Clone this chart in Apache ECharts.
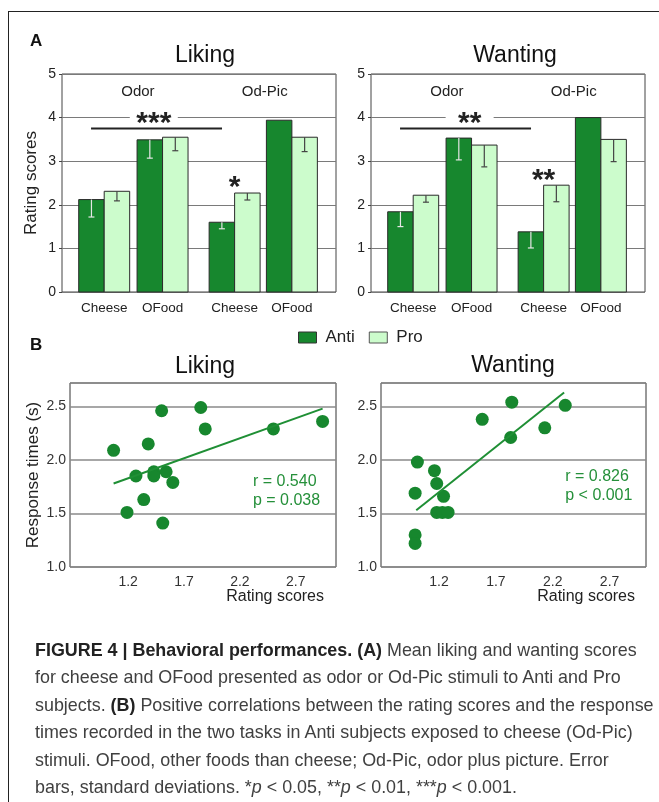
<!DOCTYPE html>
<html>
<head>
<meta charset="utf-8">
<script src="https://cdn.jsdelivr.net/npm/echarts@6/dist/echarts.min.js"></script>
<style>
  body { margin: 0; background: #fff; }
  #chart { width: 659px; height: 802px; }
  #frame { position: absolute; left: 8px; top: 11px; width: 680px; height: 820px;
           border-top: 1px solid #222; border-left: 1px solid #222; pointer-events: none; }
  #caption { position: absolute; left: 35px; top: 637px; white-space: nowrap;
             font-family: 'Liberation Sans', Arial, sans-serif; font-size: 17.9px;
             line-height: 27.4px; color: #404040; }
  #caption b { color: #222; }
</style>
</head>
<body>
<div id="chart"></div>
<div id="frame"></div>
<div id="caption">
  <b>FIGURE 4 | Behavioral performances. (A)</b> Mean liking and wanting scores<br>
  for cheese and OFood presented as odor or Od-Pic stimuli to Anti and Pro<br>
  subjects. <b>(B)</b> Positive correlations between the rating scores and the response<br>
  times recorded in the two tasks in Anti subjects exposed to cheese (Od-Pic)<br>
  stimuli. OFood, other foods than cheese; Od-Pic, odor plus picture. Error<br>
  bars, standard deviations. *<i>p</i> &lt; 0.05, **<i>p</i> &lt; 0.01, ***<i>p</i> &lt; 0.001.
</div>
<script>
// ---- data ----
const categories = ['Cheese', 'OFood', 'Cheese', 'OFood'];
const groups = ['Odor', 'Od-Pic'];

const likingAnti = [2.12, 3.49, 1.60, 3.94];
const likingPro = [2.31, 3.55, 2.27, 3.55];
const likingAntiSD = [0.40, 0.42, 0.15, 0];
const likingProSD = [0.22, 0.31, 0.16, 0.33];

const wantingAnti = [1.84, 3.53, 1.38, 4.00];
const wantingPro = [2.22, 3.37, 2.45, 3.50];
const wantingAntiSD = [0.34, 0.50, 0.37, 0];
const wantingProSD = [0.16, 0.50, 0.38, 0.51];

const likingStars = ['***', '*'];
const wantingStars = ['**', '**'];

const likingPoints = [[1.07, 2.09], [1.50, 2.46], [1.85, 2.49], [1.89, 2.29], [1.38, 2.15],
  [1.27, 1.85], [1.43, 1.89], [1.43, 1.85], [1.54, 1.89], [1.60, 1.79], [1.34, 1.63],
  [1.19, 1.51], [1.51, 1.41], [2.50, 2.29], [2.94, 2.36]];
const likingFit = [[1.07, 1.78], [2.94, 2.48]];
const likingStats = 'r = 0.540\np = 0.038';

const wantingPoints = [[1.01, 1.98], [0.99, 1.69], [0.99, 1.30], [0.99, 1.22], [1.16, 1.90],
  [1.18, 1.78], [1.24, 1.66], [1.18, 1.51], [1.23, 1.51], [1.28, 1.51], [1.58, 2.38],
  [1.84, 2.54], [1.83, 2.21], [2.13, 2.30], [2.31, 2.51]];
const wantingFit = [[1.00, 1.53], [2.30, 2.63]];
const wantingStats = 'r = 0.826\np < 0.001';

const barTicks = [0, 1, 2, 3, 4, 5];
const ratingTicks = [1.2, 1.7, 2.2, 2.7];

// ---- layout ----
const FONT = "'Liberation Sans', Arial, sans-serif";
const ANTI = '#17872e';
const PRO = '#ccfccc';
const GREEN_TXT = '#25903a';
const catX = [15.4, 36.7, 63.0, 83.9];   // category centres on a 0..100 axis
const barW = 9.3;
const groupX = [27.7, 74.0];

const chart = echarts.init(document.getElementById('chart'));

function barRenderer(fill, errColor) {
  return function (params, api) {
    const x = api.value(0), v = api.value(1), sd = api.value(2);
    const top = api.coord([x, v]);
    const base = api.coord([x, 0]);
    const w = api.size([barW, 0])[0];
    const kids = [{
      type: 'rect',
      shape: { x: top[0] - w / 2, y: top[1], width: w, height: base[1] - top[1] },
      style: { fill: fill, stroke: '#2a2a2a', lineWidth: 1 }
    }];
    if (sd > 0) {
      const lo = api.coord([x, v - sd]);
      kids.push({ type: 'line', shape: { x1: top[0], y1: top[1], x2: top[0], y2: lo[1] },
        style: { stroke: errColor, lineWidth: 1.2 } });
      kids.push({ type: 'line', shape: { x1: top[0] - 3, y1: lo[1], x2: top[0] + 3, y2: lo[1] },
        style: { stroke: errColor, lineWidth: 1.2 } });
    }
    return { type: 'group', children: kids };
  };
}

function annotRenderer(pro, stars, starX) {
  return function (params, api) {
    const kids = [];
    groups.forEach((g, i) => {
      const p = api.coord([groupX[i], 4.58]);
      kids.push({ type: 'text', x: p[0], y: p[1],
        style: { text: g, font: '15px ' + FONT, fill: '#222', align: 'center', verticalAlign: 'middle' } });
    });
    const a = api.coord([10.6, 3.75]), b = api.coord([58.4, 3.75]);
    kids.push({ type: 'line', shape: { x1: a[0], y1: a[1], x2: b[0], y2: b[1] },
      style: { stroke: '#222', lineWidth: 2 } });
    const s = api.coord([starX, 4]);
    kids.push({ type: 'rect', shape: { x: s[0] - 24, y: s[1] - 4, width: 48, height: 8 },
      style: { fill: '#fff' } });
    kids.push({ type: 'text', x: s[0], y: s[1] + 6,
      style: { text: stars[0], font: 'bold 30px ' + FONT, fill: '#222', align: 'center', verticalAlign: 'middle' } });
    const t = api.coord([catX[2], pro[2] + 0.25]);
    kids.push({ type: 'text', x: t[0], y: t[1] + 6,
      style: { text: stars[1], font: 'bold 30px ' + FONT, fill: '#222', align: 'center', verticalAlign: 'middle' } });
    return { type: 'group', children: kids };
  };
}

function statsRenderer(text) {
  return function (params, api) {
    const p = api.coord([api.value(0), api.value(1)]);
    return { type: 'text', x: p[0], y: p[1],
      style: { text: text, font: '16px ' + FONT, fill: GREEN_TXT, align: 'left',
        verticalAlign: 'middle', lineHeight: 19 } };
  };
}

function catLabel(v) {
  const k = catX.findIndex(c => Math.abs(c - v) < 0.01);
  return k >= 0 ? categories[k] : '';
}

const barGrid = { show: true, borderColor: '#444', borderWidth: 1, top: 74, height: 218, width: 274 };
const scatGrid = { show: true, borderColor: '#333', borderWidth: 1, top: 383, height: 184 };

function barXAxis(i) {
  return { gridIndex: i, type: 'value', min: 0, max: 100,
    axisLine: { show: false }, axisTick: { show: false }, splitLine: { show: false },
    axisLabel: { customValues: catX, formatter: catLabel, margin: 9, fontSize: 13.5,
      color: '#222', fontFamily: FONT } };
}
function barYAxis(i, name) {
  return { gridIndex: i, type: 'value', min: barTicks[0], max: barTicks[barTicks.length - 1], interval: 1,
    axisLine: { show: false },
    axisTick: { show: true, length: 3, lineStyle: { color: '#444' } },
    splitLine: { lineStyle: { color: '#7a7a7a', width: 1 } },
    axisLabel: { fontSize: 14, color: '#222', margin: 6, fontFamily: FONT },
    name: name, nameLocation: 'middle', nameGap: 22, nameRotate: 90,
    nameTextStyle: { fontSize: 17, color: '#222', fontFamily: FONT } };
}
function scatXAxis(i, min, max) {
  return { gridIndex: i, type: 'value', min: min, max: max,
    axisLine: { show: false }, axisTick: { show: false }, splitLine: { show: false },
    axisLabel: { customValues: ratingTicks, formatter: v => v.toFixed(1), margin: 8,
      fontSize: 14, color: '#333', fontFamily: FONT } };
}
function scatYAxis(i, name) {
  return { gridIndex: i, type: 'value', min: 1, max: 2.719, interval: 0.5,
    axisLine: { show: false }, axisTick: { show: false },
    splitLine: { lineStyle: { color: '#8a8a8a', width: 1.5 } },
    axisLabel: { formatter: v => v.toFixed(1), showMaxLabel: false, fontSize: 14,
      color: '#333', margin: 4, fontFamily: FONT },
    name: name, nameLocation: 'middle', nameGap: 28, nameRotate: 90,
    nameTextStyle: { fontSize: 17, color: '#222', fontFamily: FONT } };
}

function txt(text, x, y, size, opts) {
  return Object.assign({ type: 'text', x: x, y: y,
    style: { text: text, font: size + 'px ' + FONT, fill: '#111', align: 'center', verticalAlign: 'middle' } }, opts || {});
}

const option = {
  animation: false,
  textStyle: { fontFamily: FONT },
  grid: [
    Object.assign({ left: 62 }, barGrid),
    Object.assign({ left: 371 }, barGrid),
    Object.assign({ left: 70, width: 266 }, scatGrid),
    Object.assign({ left: 381, width: 265 }, scatGrid)
  ],
  xAxis: [barXAxis(0), barXAxis(1), scatXAxis(2, 0.68, 3.06), scatXAxis(3, 0.69, 3.02)],
  yAxis: [barYAxis(0, 'Rating scores'), barYAxis(1, ''), scatYAxis(2, 'Response times (s)'), scatYAxis(3, '')],
  legend: {
    left: 298, top: 329, padding: 0, itemWidth: 18, itemHeight: 11, itemGap: 14, icon: 'rect',
    selectedMode: false,
    textStyle: { fontSize: 17, color: '#222', fontFamily: FONT, padding: [0, 0, 0, 4] },
    data: [
      { name: 'Anti', itemStyle: { color: ANTI, borderColor: '#333', borderWidth: 1 } },
      { name: 'Pro', itemStyle: { color: PRO, borderColor: '#555', borderWidth: 1 } }
    ]
  },
  graphic: [
    { type: 'text', x: 30, y: 41, style: { text: 'A', font: 'bold 17px ' + FONT, fill: '#111', verticalAlign: 'middle' } },
    { type: 'text', x: 30, y: 345, style: { text: 'B', font: 'bold 17px ' + FONT, fill: '#111', verticalAlign: 'middle' } },
    txt('Liking', 205, 56, 23),
    txt('Wanting', 515, 56, 23),
    txt('Liking', 205, 367, 23),
    txt('Wanting', 513, 366, 23),
    { type: 'text', x: 324, y: 597, style: { text: 'Rating scores', font: '16px ' + FONT, fill: '#222', align: 'right', verticalAlign: 'middle' } },
    { type: 'text', x: 635, y: 597, style: { text: 'Rating scores', font: '16px ' + FONT, fill: '#222', align: 'right', verticalAlign: 'middle' } }
  ],
  series: [
    { type: 'custom', name: 'Anti', xAxisIndex: 0, yAxisIndex: 0, itemStyle: { color: ANTI },
      data: likingAnti.map((v, k) => [catX[k] - barW / 2, v, likingAntiSD[k]]),
      renderItem: barRenderer(ANTI, '#e6e6e6') },
    { type: 'custom', name: 'Pro', xAxisIndex: 0, yAxisIndex: 0, itemStyle: { color: PRO },
      data: likingPro.map((v, k) => [catX[k] + barW / 2, v, likingProSD[k]]),
      renderItem: barRenderer(PRO, '#444') },
    { type: 'custom', xAxisIndex: 0, yAxisIndex: 0, silent: true, z: 5, data: [[0, 0]],
      renderItem: annotRenderer(likingPro, likingStars, 33.5) },

    { type: 'custom', name: 'Anti', xAxisIndex: 1, yAxisIndex: 1, itemStyle: { color: ANTI },
      data: wantingAnti.map((v, k) => [catX[k] - barW / 2, v, wantingAntiSD[k]]),
      renderItem: barRenderer(ANTI, '#e6e6e6') },
    { type: 'custom', name: 'Pro', xAxisIndex: 1, yAxisIndex: 1, itemStyle: { color: PRO },
      data: wantingPro.map((v, k) => [catX[k] + barW / 2, v, wantingProSD[k]]),
      renderItem: barRenderer(PRO, '#444') },
    { type: 'custom', xAxisIndex: 1, yAxisIndex: 1, silent: true, z: 5, data: [[0, 0]],
      renderItem: annotRenderer(wantingPro, wantingStars, 36) },

    { type: 'scatter', xAxisIndex: 2, yAxisIndex: 2, data: likingPoints, symbolSize: 13,
      itemStyle: { color: ANTI, opacity: 1 } },
    { type: 'line', xAxisIndex: 2, yAxisIndex: 2, data: likingFit, symbol: 'none',
      lineStyle: { color: '#1f8f35', width: 2 } },
    { type: 'custom', xAxisIndex: 2, yAxisIndex: 2, silent: true, data: [[2.317, 1.708]],
      renderItem: statsRenderer(likingStats) },

    { type: 'scatter', xAxisIndex: 3, yAxisIndex: 3, data: wantingPoints, symbolSize: 13,
      itemStyle: { color: ANTI, opacity: 1 } },
    { type: 'line', xAxisIndex: 3, yAxisIndex: 3, data: wantingFit, symbol: 'none',
      lineStyle: { color: '#1f8f35', width: 2 } },
    { type: 'custom', xAxisIndex: 3, yAxisIndex: 3, silent: true, data: [[2.31, 1.754]],
      renderItem: statsRenderer(wantingStats) }
  ]
};

chart.setOption(option);
</script>
</body>
</html>
